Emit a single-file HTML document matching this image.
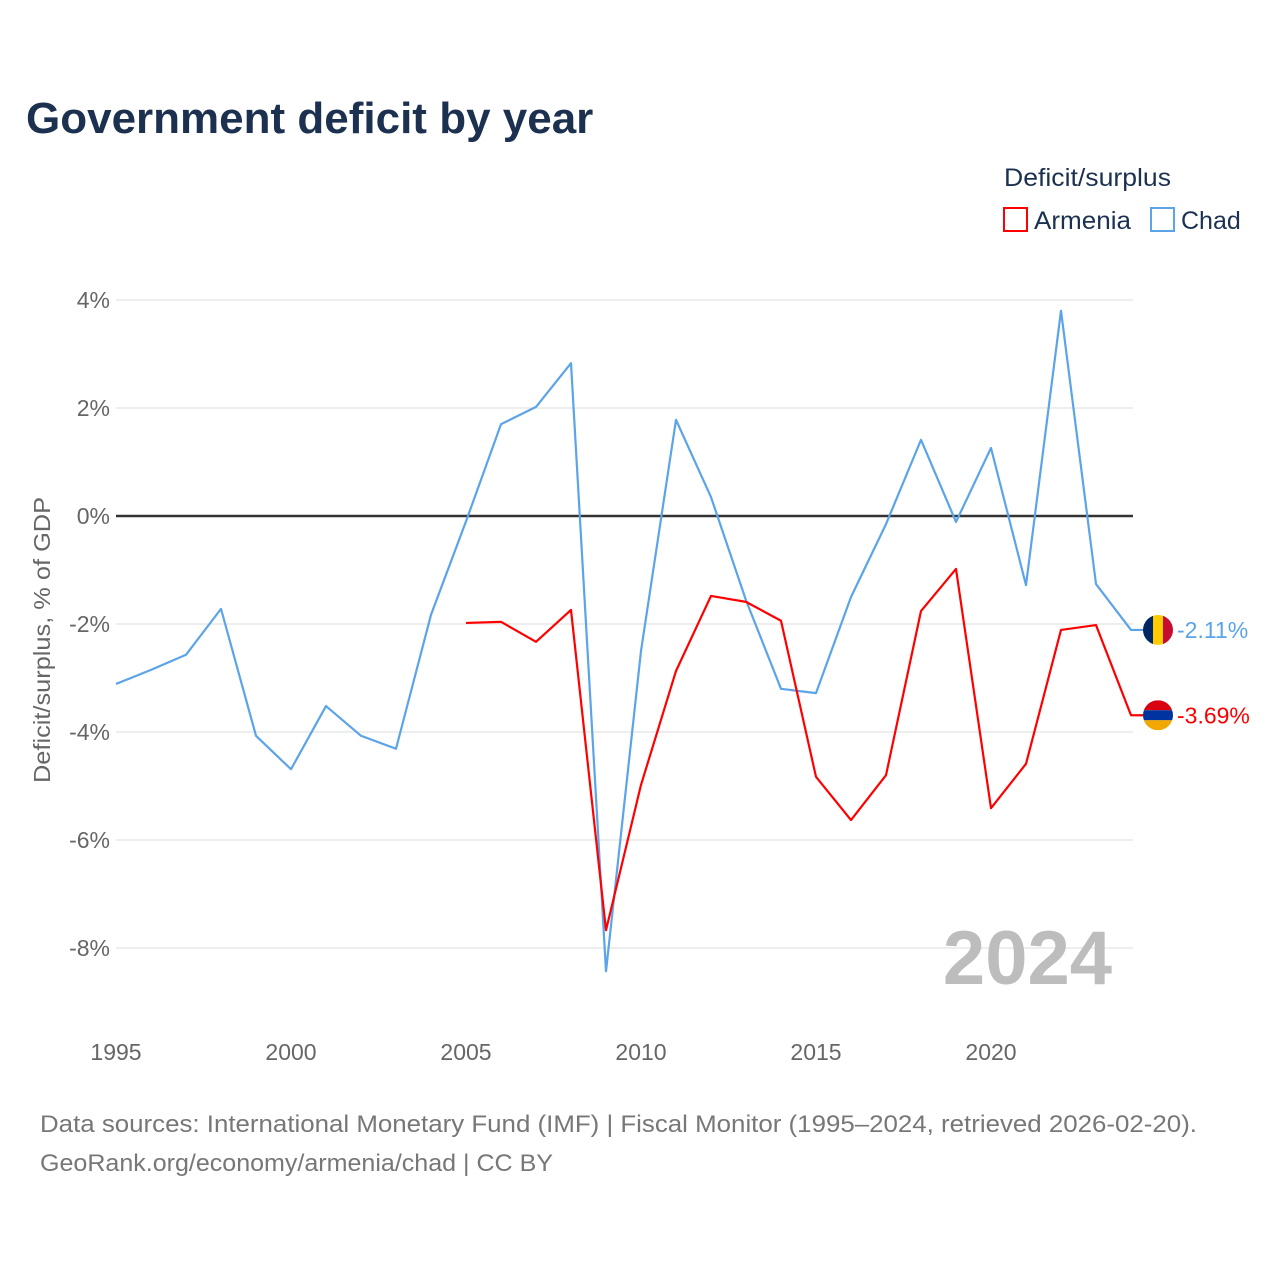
<!DOCTYPE html>
<html><head><meta charset="utf-8"><style>
body{margin:0;background:#fff;font-family:"Liberation Sans",sans-serif}
svg text{font-family:"Liberation Sans",sans-serif}
</style></head><body>
<svg id="chart" width="1280" height="1280" viewBox="0 0 1280 1280" xmlns="http://www.w3.org/2000/svg">
<rect width="1280" height="1280" fill="#fff"/>
<text x="26" y="133" font-size="44" font-weight="bold" fill="#1c3150">Government deficit by year</text>
<text x="1004" y="186" font-size="25" fill="#1c3150" textLength="167" lengthAdjust="spacingAndGlyphs">Deficit/surplus</text>
<g><rect x="1004" y="208" width="23" height="23" fill="none" stroke="#f00" stroke-width="2"/><text x="1034" y="229" font-size="25" fill="#1c3150" textLength="97" lengthAdjust="spacingAndGlyphs">Armenia</text></g>
<g><rect x="1151" y="208" width="23" height="23" fill="none" stroke="#5ba4e8" stroke-width="2"/><text x="1181" y="229" font-size="25" fill="#1c3150">Chad</text></g>
<text transform="translate(50,640) rotate(-90)" text-anchor="middle" font-size="23" fill="#666" textLength="286" lengthAdjust="spacingAndGlyphs">Deficit/surplus, % of GDP</text>
<g id="grid"></g><g id="series"></g>
<text x="1112" y="984" text-anchor="end" font-size="76" font-weight="bold" fill="#bdbdbd">2024</text>
<text x="40" y="1132" font-size="24" fill="#777" textLength="1157" lengthAdjust="spacingAndGlyphs">Data sources: International Monetary Fund (IMF) | Fiscal Monitor (1995–2024, retrieved 2026-02-20).</text>
<text x="40" y="1171" font-size="24" fill="#777" textLength="513" lengthAdjust="spacingAndGlyphs">GeoRank.org/economy/armenia/chad | CC BY</text>
</svg>
<script>
const yTicks=[4,2,0,-2,-4,-6,-8];
const xTicks=[1995,2000,2005,2010,2015,2020];
const chadYears=[1995,1996,1997,1998,1999,2000,2001,2002,2003,2004,2005,2006,2007,2008,2009,2010,2011,2012,2013,2014,2015,2016,2017,2018,2019,2020,2021,2022,2023,2024];
const chadValues=[-3.11,-2.85,-2.57,-1.72,-4.07,-4.69,-3.52,-4.07,-4.31,-1.83,-0.1,1.70,2.02,2.83,-8.43,-2.5,1.78,0.35,-1.56,-3.2,-3.28,-1.5,-0.15,1.41,-0.11,1.26,-1.28,3.8,-1.26,-2.11];
const armYears=[2005,2006,2007,2008,2009,2010,2011,2012,2013,2014,2015,2016,2017,2018,2019,2020,2021,2022,2023,2024];
const armValues=[-1.98,-1.96,-2.33,-1.74,-7.67,-4.98,-2.87,-1.48,-1.59,-1.94,-4.83,-5.63,-4.8,-1.76,-0.98,-5.41,-4.59,-2.11,-2.02,-3.69];
const X=y=>116+(y-1995)*35;
const Y=v=>516-v*54;
const NS="http://www.w3.org/2000/svg";
function mk(t,a,p){const e=document.createElementNS(NS,t);for(const k in a)e.setAttribute(k,a[k]);p.appendChild(e);return e;}
const grid=document.getElementById('grid'),ser=document.getElementById('series');
yTicks.forEach(v=>{
 const l=mk('line',{x1:116,x2:1133,y1:Y(v),y2:Y(v),stroke:v===0?'#333':'#e8e8e8','stroke-width':v===0?2.5:1.5},grid);
 
 
 const t=mk('text',{x:110,y:Y(v)+8,'text-anchor':'end','font-size':23,fill:'#666'},grid);
 t.textContent=v+'%';
 
 
});
xTicks.forEach(y=>{
 const t=mk('text',{x:X(y),y:1060,'text-anchor':'middle','font-size':23,fill:'#666'},grid);
 t.textContent=y;
 
 
});
function line(ys,vs,c,name){
 const pts=ys.map((y,i)=>X(y)+','+Y(vs[i]));
 pts.push('1143,'+Y(vs[vs.length-1]));
 const p=mk('polyline',{points:pts.join(' '),fill:'none',stroke:c,'stroke-width':2.2,'stroke-linejoin':'round'},ser);
 
 
}
line(chadYears,chadValues,'#5ba4e8','chad-line');
line(armYears,armValues,'#f00','armenia-line');
function endLabel(v,c,name,flag){
 const cx=1158,cy=Y(v);
 const g=mk('g',{},ser);
 
 
 const cp=mk('clipPath',{id:'cp'+name},g);
 mk('circle',{cx:cx,cy:cy,r:15},cp);
 const f=mk('g',{'clip-path':'url(#cp'+name+')'},g);
 if(flag==='chad'){['#002664','#fecb00','#c60c30'].forEach((col,i)=>mk('rect',{x:cx-15+i*10,y:cy-15,width:10,height:30,fill:col},f));}
 else{['#d90012','#0033a0','#f2a800'].forEach((col,i)=>mk('rect',{x:cx-15,y:cy-15+i*10,width:30,height:10,fill:col},f));}
 const t=mk('text',{x:1177,y:cy+8,'font-size':23,fill:c},ser);
 t.textContent=v.toFixed(2)+'%';
 
 
}
endLabel(chadValues[chadValues.length-1],'#5ba4e8','chad','chad');
endLabel(armValues[armValues.length-1],'#f00','armenia','armenia');
</script>
</body></html>
